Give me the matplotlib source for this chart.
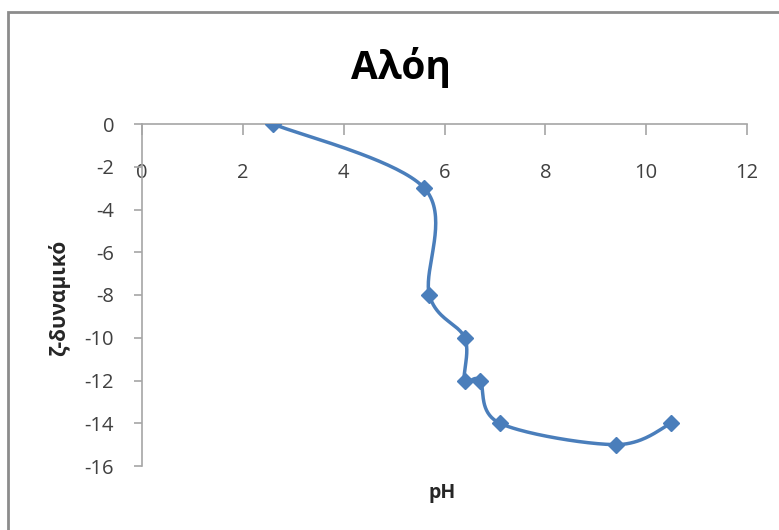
import numpy as np
import matplotlib.pyplot as plt
from matplotlib.patches import Rectangle

plt.rcParams['axes.unicode_minus'] = False

# Μετρήσεις ζ-δυναμικού για την αλόη σε διάφορες τιμές pH
ph = [2.6, 5.6, 5.7, 6.4, 6.4, 6.7, 7.1, 9.4, 10.5]
zeta = [0, -3, -8, -10, -12, -12, -14, -15, -14]

x_ticks = [0, 2, 4, 6, 8, 10, 12]
y_ticks = [0, -2, -4, -6, -8, -10, -12, -14, -16]

color = '#4A7EBB'
axis_color = '#A6A6A6'
text_color = '#404040'


def smooth_curve(xs, ys, n=40):
    # καμπύλη Bezier τύπου Catmull-Rom (όπως η "ομαλή γραμμή" του Excel)
    p = np.column_stack([xs, ys]).astype(float)
    p = np.vstack([p[0], p, p[-1]])
    out = []
    t = np.linspace(0, 1, n)[:, None]
    for i in range(1, len(p) - 2):
        p0, p1, p2, p3 = p[i - 1], p[i], p[i + 1], p[i + 2]
        c1 = p1 + (p2 - p0) / 6
        c2 = p2 - (p3 - p1) / 6
        seg = ((1 - t) ** 3) * p1 + 3 * ((1 - t) ** 2) * t * c1 + 3 * (1 - t) * t ** 2 * c2 + t ** 3 * p2
        out.append(seg)
    out = np.vstack(out)
    return out[:, 0], out[:, 1]


fig = plt.figure(figsize=(7.79, 5.30), dpi=100)
ax = fig.add_axes([142 / 779, 64 / 530, 605 / 779, 342 / 530])

sx, sy = smooth_curve(ph, zeta)
ax.plot(sx, sy, color=color, linewidth=2.5, solid_capstyle='round', zorder=3)
ax.plot(ph, zeta, linestyle='none', marker='D', markersize=8, color=color, zorder=4)

ax.set_xlim(0, 12)
ax.set_ylim(-16, 0)
ax.set_xticks(x_ticks)
ax.set_yticks(y_ticks)

for s in ['top', 'right']:
    ax.spines[s].set_visible(False)
ax.spines['bottom'].set_position(('data', 0))
ax.spines['bottom'].set_color(axis_color)
ax.spines['left'].set_color(axis_color)
ax.spines['bottom'].set_linewidth(1.2)
ax.spines['left'].set_linewidth(1.2)
ax.tick_params(axis='x', direction='out', length=8, width=1.2, color=axis_color,
               labelsize=14.5, labelcolor=text_color, pad=20)
ax.tick_params(axis='y', direction='out', length=6, width=1.2, color=axis_color,
               labelsize=14.5, labelcolor=text_color, pad=14)
for lab in ax.get_xticklabels() + ax.get_yticklabels():
    lab.set_family('Open Sans')

fig.text(401 / 779, 1 - 67 / 530, 'Αλόη', ha='center', va='center',
         fontsize=28, fontweight='bold', family='Open Sans')
fig.text(442 / 779, 1 - 493 / 530, 'pH', ha='center', va='center',
         fontsize=14, fontweight='bold', family='Open Sans', color='#262626')
fig.text(59 / 779, 1 - 298 / 530, 'ζ-δυναμικό', ha='center', va='center',
         rotation=90, fontsize=15, fontweight='bold', family='Open Sans', color='#262626')

# πλαίσιο γραφήματος
fig.patches.append(Rectangle((8 / 779, -0.1), 1.2, 1 - 12 / 530 + 0.1,
                             transform=fig.transFigure, fill=False,
                             edgecolor='#8C8C8C', linewidth=2))

fig.savefig('out.png', dpi=100)
